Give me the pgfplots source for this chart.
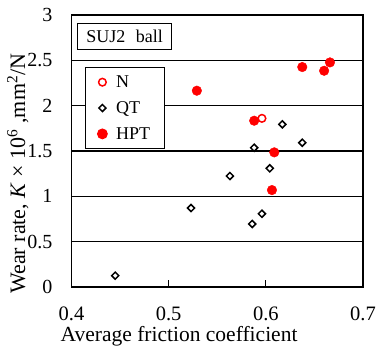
\documentclass[border=0pt]{standalone}
\usepackage{pgfplots}
\pgfplotsset{compat=1.18}
\usepackage{fontspec}
\setmainfont{Liberation Serif}
\begin{document}
\begin{tikzpicture}
\useasboundingbox (-71.5pt,-60pt) rectangle (310.5pt,287pt);
\begin{axis}[
  at={(0pt,0pt)}, anchor=south west,
  scale only axis, width=291.5pt, height=272pt,
  xmin=0.4, xmax=0.7, ymin=0, ymax=3,
  xtick={0.4,0.5,0.6,0.7}, xticklabels={0.4,0.5,0.6,0.7},
  ytick={0,0.5,1,1.5,2,2.5,3}, yticklabels={0,0.5,1,1.5,2,2.5,3},
  xtick pos=left, tick align=inside, major tick length=7pt,
  xtick style={line width=1.3pt, black},
  ytick style={draw=none},
  axis line style={line width=1.6pt},
  ymajorgrids, grid style={line width=1.2pt, black},
  ticklabel style={inner sep=0pt},
  xticklabel style={font=\fontsize{20.5}{24}\selectfont, anchor=base, yshift=-33.5pt, text depth=0pt},
  yticklabel style={font=\fontsize{20}{24}\selectfont, anchor=east, xshift=-19pt},
  xlabel={Average friction coefficient},
  xlabel style={font=\fontsize{21.5}{26}\selectfont, at={(axis description cs:0.369,0)}, anchor=base, yshift=-54pt, inner sep=0pt, text height=0.68em},
  ylabel={Wear rate, \textit{K} × 10\textsuperscript{6} ,mm\textsuperscript{2}/N},
  ylabel style={font=\fontsize{22}{26}\selectfont, at={(axis description cs:-0.1595,0.417)}, rotate=0, anchor=base},
  legend style={at={(axis description cs:0.0463,0.809)}, anchor=north west,
    draw=black, line width=1.2pt, fill=white, font=\fontsize{18}{21}\selectfont,
    row sep=8.5pt, inner xsep=12pt, inner ysep=6pt,
    /tikz/every odd column/.append style={column sep=7pt}},
  legend cell align=left,
  clip=false,
]
\addplot[only marks, mark=o, red, mark size=3.8pt, line width=1.5pt] coordinates {(0.596,1.86)};
\addlegendentry{N}
\addplot[only marks, mark=square, black, mark size=2.5pt, line width=1.5pt, mark options={rotate=45}] coordinates {
(0.617,1.794) (0.6375,1.591) (0.588,1.536) (0.604,1.309) (0.563,1.224)
(0.523,0.871) (0.596,0.808) (0.586,0.695) (0.445,0.125)};
\addlegendentry{QT}
\addplot[only marks, mark=*, red, mark size=4.8pt] coordinates {
(0.529,2.165) (0.6375,2.426) (0.660,2.385) (0.666,2.477) (0.588,1.834) (0.6087,1.485) (0.6063,1.069)};
\addlegendentry{HPT}
\node[draw=black, line width=1.2pt, fill=white, anchor=north west, minimum width=94pt, minimum height=26pt, inner sep=0pt, font=\fontsize{18}{21}\selectfont] at (axis description cs:0.0189,0.9706) {SUJ2\,\, ball};
\end{axis}
\end{tikzpicture}
\end{document}
